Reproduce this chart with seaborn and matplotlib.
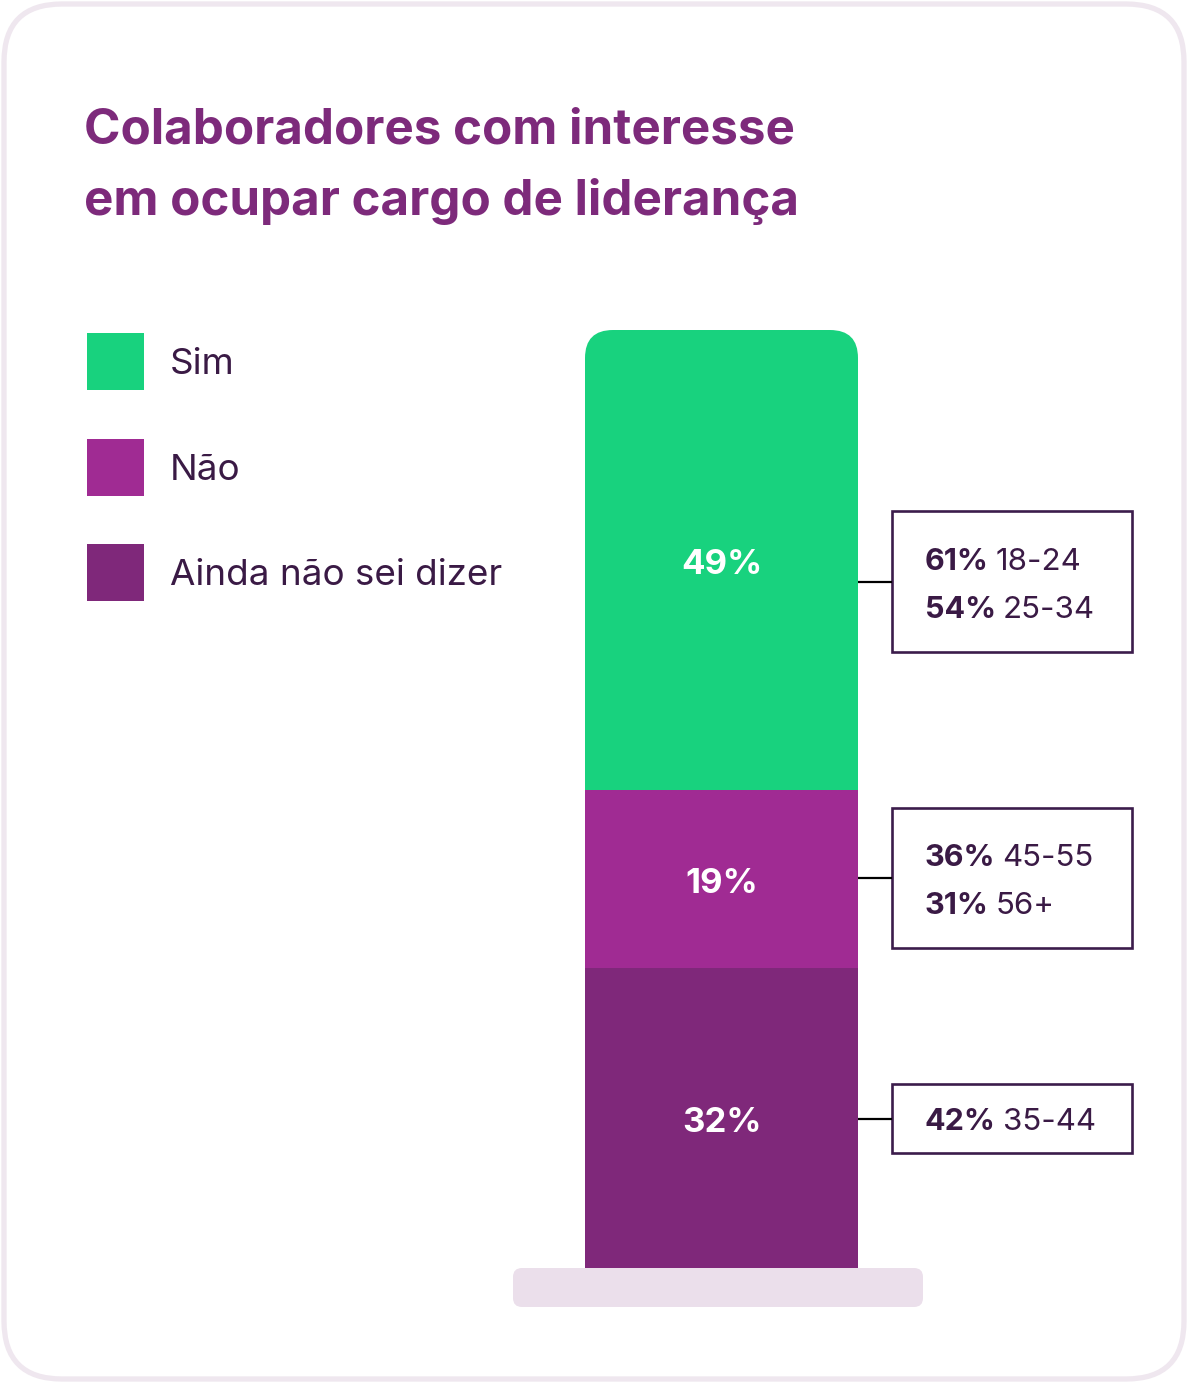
import matplotlib.pyplot as plt
from matplotlib.patches import FancyBboxPatch, Rectangle
from matplotlib.transforms import IdentityTransform
import seaborn as sns

# Dados
categorias = ["Sim", "Não", "Ainda não sei dizer"]
valores = [49, 19, 32]
cores = ["#18D27E", "#A02B93", "#7F287A"]
titulo = ["Colaboradores com interesse", "em ocupar cargo de liderança"]

# destaques por faixa etária ao lado de cada segmento
destaque_sim = [("61%", "18-24"), ("54%", "25-34")]
destaque_nao = [("36%", "45-55"), ("31%", "56+")]
destaque_ainda = [("42%", "35-44")]

W, H = 1188, 1383
TXT = "#3A1A45"

sns.set_theme(style="white")
plt.rcParams['font.family'] = ['Inter', 'DejaVu Sans']

fig = plt.figure(figsize=(W / 100, H / 100), dpi=100)
fig.patch.set_facecolor("white")

# camada de fundo em coordenadas de pixel
ov = fig.add_axes([0, 0, 1, 1])
ov.set_xlim(0, W)
ov.set_ylim(H, 0)
ov.axis("off")

card = FancyBboxPatch((4, 4), W - 8, H - 8, boxstyle="round,pad=0,rounding_size=58",
                      facecolor="white", edgecolor="#EFE7EF", linewidth=3.8)
ov.add_patch(card)

# titulo
for i, linha in enumerate(titulo):
    ov.text(84, 143 + i * 72, linha, fontsize=35.5, fontweight="bold",
            color="#7D2A7B", va="baseline", ha="left")

# legenda
for i, (cat, cor) in enumerate(zip(categorias, cores)):
    y0 = 333 + i * 105.5
    ov.add_patch(Rectangle((87, y0), 57, 57, facecolor=cor, edgecolor="none"))
    ov.text(170, y0 + 41, cat, fontsize=26.5, color=TXT, va="baseline", ha="left")

# base cinza
ov.add_patch(FancyBboxPatch((513, 1268), 410, 39, boxstyle="round,pad=0,rounding_size=9",
                            facecolor="#EBDFEB", edgecolor="none"))

# barra empilhada
BAR_L, BAR_R, BAR_T, BAR_B = 585, 858, 330, 1268
bax = fig.add_axes([BAR_L / W, (H - BAR_B) / H, (BAR_R - BAR_L) / W, (BAR_B - BAR_T) / H])
bax.patch.set_alpha(0)

ordem = [2, 1, 0]  # de baixo para cima
base = 0
for idx in ordem:
    sns.barplot(x=[0], y=[valores[idx]], bottom=base, color=cores[idx], saturation=1,
                width=1, errorbar=None, edgecolor="none", linewidth=0, ax=bax)
    bax.annotate(f"{valores[idx]}%", xy=(0, base + valores[idx] / 2), xytext=(0, -4),
                 textcoords="offset points", color="white", fontsize=25,
                 fontweight="bold", ha="center", va="center")
    base += valores[idx]
bax.set_xlim(-0.5, 0.5)
bax.set_ylim(0, 100)
bax.axis("off")

# cantos arredondados no topo
fig.canvas.draw()
topo = bax.patches[-1]
bb = topo.get_window_extent()
clip = FancyBboxPatch((bb.x0, bb.y0 - 60), bb.width, bb.height + 60,
                      boxstyle="round,pad=0,rounding_size=28", transform=IdentityTransform())
topo.set_clip_path(clip)

# caixas de destaque
caixas = [(511, 141, destaque_sim), (808, 140, destaque_nao), (1084, 69, destaque_ainda)]
for top, alt, linhas in caixas:
    yc = top + alt / 2
    ov.plot([BAR_R, 892], [yc, yc], color="black", lw=1.6, solid_capstyle="butt")
    ov.add_patch(Rectangle((892, top), 240, alt, facecolor="white", edgecolor="#3B1C4B", lw=1.9))
    n = len(linhas)
    for j, (pct, faixa) in enumerate(linhas):
        yb = yc + 12 + (j - (n - 1) / 2) * 48
        t = ov.text(925, yb, pct, fontsize=22, fontweight="bold", color=TXT,
                    va="baseline", ha="left")
        ov.annotate(faixa, xy=(1, 0), xycoords=t, xytext=(5, 0), textcoords="offset points",
                    fontsize=22.5, color=TXT, va="bottom", ha="left")

fig.savefig("out.png", dpi=100)
